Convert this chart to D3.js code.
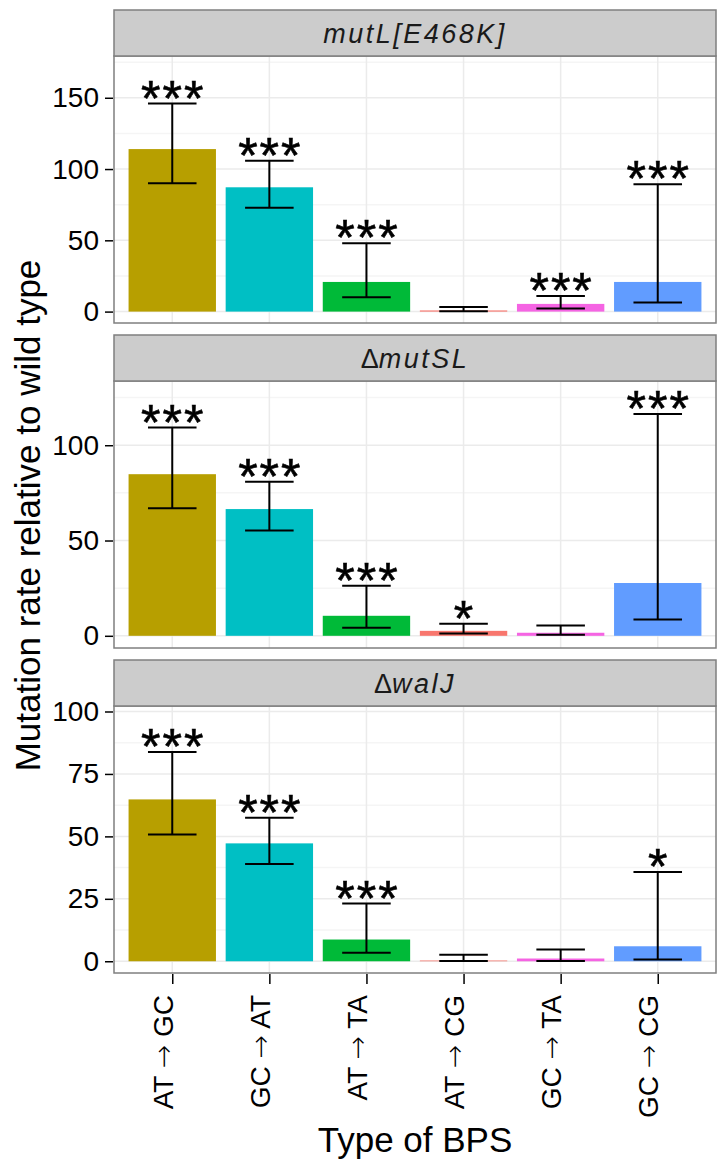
<!DOCTYPE html>
<html>
<head>
<meta charset="utf-8">
<script src="https://cdn.jsdelivr.net/npm/d3@7"></script>
<style>
  html, body { margin: 0; padding: 0; background: #fff; }
  svg { display: block; font-family: "Liberation Sans", Arial, Helvetica, sans-serif; }
</style>
</head>
<body>
<svg id="chart" width="717" height="1162"></svg>
<script>
// Base-pair substitution types (x categories) and their fills
const categories = ["AT \u2192 GC", "GC \u2192 AT", "AT \u2192 TA", "AT \u2192 CG", "GC \u2192 TA", "GC \u2192 CG"];
const fillColors = ["#B79F00", "#00BFC4", "#00BA38", "#F8766D", "#F564E3", "#619CFF"];

// Facets: strain labels (prefix drawn upright, name in italics)
const panelPrefix = ["", "\u0394", "\u0394"];
const panelNames = ["mutL[E468K]", "mutSL", "walJ"];

// Mutation rate relative to wild type, with confidence limits
const rateMutL = [114, 87.2, 20.8, 0.8, 5.4, 20.8];
const lowMutL  = [90, 72.9, 10.1, 0.2, 2.1, 6.3];
const highMutL = [145.9, 105.9, 48, 3.3, 11, 89.3];

const rateMutSL = [84.8, 66.5, 10.5, 2.6, 1.6, 27.7];
const lowMutSL  = [66.9, 55.3, 4.2, 1.2, 0.5, 8.5];
const highMutSL = [109.3, 80.8, 26.3, 6.3, 5.4, 116.4];

const rateWalJ = [64.8, 47.2, 8.7, 0.3, 1.1, 6.0];
const lowWalJ  = [50.8, 38.9, 3.4, 0.1, 0.1, 0.7];
const highWalJ = [83.8, 57.5, 23.1, 2.6, 4.7, 35.7];

// Significance marks above each bar
const sigMutL  = ["***", "***", "***", "", "***", "***"];
const sigMutSL = ["***", "***", "***", "*", "", "***"];
const sigWalJ  = ["***", "***", "***", "", "", "*"];

// Per-facet y axis: visible range and tick values
const yDomains = [[-8, 179.3], [-6.4, 133.7], [-4.7, 102.2]];
const yTicks = [[0, 50, 100, 150], [0, 50, 100], [0, 25, 50, 75, 100]];

const panelRates = [rateMutL, rateMutSL, rateWalJ];
const panelLows = [lowMutL, lowMutSL, lowWalJ];
const panelHighs = [highMutL, highMutSL, highWalJ];
const panelSigs = [sigMutL, sigMutSL, sigWalJ];

// Layout
const plotLeft = 114, plotRight = 716;
const top0 = 10, stripH = 46, panelH = 267, gap = 12;
const tickFont = 28, titleFont = 35, starFont = 50;

const svg = d3.select("#chart");

const x = d3.scalePoint()
  .domain(categories)
  .range([plotLeft, plotRight])
  .padding(0.6);
const step = x.step();
const barW = step * 0.9;
const capW = step * 0.5;
const color = d3.scaleOrdinal().domain(categories).range(fillColors);

panelNames.forEach((name, p) => {
  const stripTop = top0 + p * (stripH + panelH + gap);
  const pTop = stripTop + stripH;
  const pBottom = pTop + panelH;

  const y = d3.scaleLinear().domain(yDomains[p]).range([pBottom, pTop]);
  const g = svg.append("g");

  // panel background
  g.append("rect")
    .attr("x", plotLeft).attr("y", pTop)
    .attr("width", plotRight - plotLeft).attr("height", panelH)
    .attr("fill", "#fff");

  // minor horizontal grid lines (midpoints between major ticks)
  const t = yTicks[p];
  const stepT = t[1] - t[0];
  const minor = [];
  for (let v = t[0] - stepT / 2; v <= yDomains[p][1]; v += stepT) {
    if (v >= yDomains[p][0]) minor.push(v);
  }
  g.selectAll(".minor").data(minor).join("line")
    .attr("x1", plotLeft).attr("x2", plotRight)
    .attr("y1", d => y(d)).attr("y2", d => y(d))
    .attr("stroke", "#f5f5f5").attr("stroke-width", 1.5);

  // major grid
  g.selectAll(".hmaj").data(t).join("line")
    .attr("x1", plotLeft).attr("x2", plotRight)
    .attr("y1", d => y(d)).attr("y2", d => y(d))
    .attr("stroke", "#ebebeb").attr("stroke-width", 1.5);
  g.selectAll(".vmaj").data(categories).join("line")
    .attr("x1", d => x(d)).attr("x2", d => x(d))
    .attr("y1", pTop).attr("y2", pBottom)
    .attr("stroke", "#ebebeb").attr("stroke-width", 1.5);

  const rows = categories.map((c, i) => ({
    cat: c, rate: panelRates[p][i], lo: panelLows[p][i], hi: panelHighs[p][i], sig: panelSigs[p][i]
  }));

  // bars
  g.selectAll(".bar").data(rows).join("rect")
    .attr("x", d => x(d.cat) - barW / 2)
    .attr("width", barW)
    .attr("y", d => y(d.rate))
    .attr("height", d => y(0) - y(d.rate))
    .attr("fill", d => color(d.cat));

  // error bars
  const eb = g.selectAll(".eb").data(rows).join("g").attr("stroke", "#000").attr("stroke-width", 2);
  eb.append("line")
    .attr("x1", d => x(d.cat)).attr("x2", d => x(d.cat))
    .attr("y1", d => y(d.lo)).attr("y2", d => y(d.hi));
  eb.append("line")
    .attr("x1", d => x(d.cat) - capW / 2).attr("x2", d => x(d.cat) + capW / 2)
    .attr("y1", d => y(d.hi)).attr("y2", d => y(d.hi));
  eb.append("line")
    .attr("x1", d => x(d.cat) - capW / 2).attr("x2", d => x(d.cat) + capW / 2)
    .attr("y1", d => y(d.lo)).attr("y2", d => y(d.lo));

  // significance stars
  g.selectAll(".sig").data(rows.filter(d => d.sig)).join("text")
    .attr("x", d => x(d.cat) + (d.sig.length > 1 ? 1 : 0))
    .attr("y", d => y(d.hi) + 12)
    .attr("text-anchor", "middle")
    .attr("font-size", starFont)
    .attr("letter-spacing", d => d.sig.length > 1 ? 2 : 0)
    .attr("fill", "#000")
    .attr("stroke", "#000").attr("stroke-width", 0.6)
    .text(d => d.sig);

  // panel border
  g.append("rect")
    .attr("x", plotLeft).attr("y", pTop)
    .attr("width", plotRight - plotLeft).attr("height", panelH)
    .attr("fill", "none").attr("stroke", "#7f7f7f").attr("stroke-width", 1.5);

  // strip
  g.append("rect")
    .attr("x", plotLeft).attr("y", stripTop)
    .attr("width", plotRight - plotLeft).attr("height", stripH)
    .attr("fill", "#cccccc").attr("stroke", "#7f7f7f").attr("stroke-width", 1.5);
  const st = g.append("text")
    .attr("x", (plotLeft + plotRight) / 2)
    .attr("y", stripTop + stripH / 2 + 9.5)
    .attr("text-anchor", "middle")
    .attr("font-size", 27)
    .attr("letter-spacing", 2.5)
    .attr("fill", "#1a1a1a");
  if (panelPrefix[p]) st.append("tspan").attr("letter-spacing", 0).text(panelPrefix[p]);
  st.append("tspan").attr("font-style", "italic").text(name);

  // y axis
  const yAxis = d3.axisLeft(y).tickValues(t).tickSize(8).tickPadding(6).tickFormat(d3.format("d"));
  const ya = svg.append("g").attr("transform", `translate(${plotLeft - 1},0)`).call(yAxis);
  ya.select(".domain").remove();
  ya.selectAll(".tick line").attr("stroke", "#000").attr("stroke-width", 1.5);
  ya.selectAll(".tick text").attr("font-size", tickFont).attr("fill", "#000")
    .attr("font-family", "'Liberation Sans', Arial, sans-serif");

  // x axis on the bottom facet only
  if (p === panelNames.length - 1) {
    const xAxis = d3.axisBottom(x).tickSize(10).tickPadding(0).tickFormat(() => "");
    const xa = svg.append("g").attr("transform", `translate(0,${pBottom + 1})`).call(xAxis);
    xa.select(".domain").remove();
    xa.selectAll(".tick line").attr("stroke", "#000").attr("stroke-width", 1.5);
    // rotated labels: source pair, arrow, target pair
    xa.selectAll(".tick text")
      .attr("font-size", tickFont).attr("fill", "#000")
      .attr("font-family", "'Liberation Sans', Arial, sans-serif")
      .attr("text-anchor", "end")
      .attr("dy", null)
      .attr("x", 0).attr("y", 0)
      .attr("transform", "translate(0,21) rotate(-90)")
      .each(function(d) {
        const parts = d.split(" \u2192 ");
        const el = d3.select(this);
        el.append("tspan").text(parts[0] + " ");
        el.append("tspan").attr("font-family", "'DejaVu Sans', sans-serif").attr("font-weight", 300).text("\u2192");
        el.append("tspan").text(" " + parts[1]);
      });
  }
});

// axis titles
const lastBottom = top0 + 3 * (stripH + panelH) + 2 * gap;
svg.append("text")
  .attr("x", (plotLeft + plotRight) / 2)
  .attr("y", 1152)
  .attr("text-anchor", "middle")
  .attr("font-size", titleFont)
  .attr("fill", "#000")
  .text("Type of BPS");

svg.append("text")
  .attr("transform", `translate(40,${(top0 + lastBottom) / 2 + 24}) rotate(-90)`)
  .attr("text-anchor", "middle")
  .attr("font-size", titleFont)
  .attr("fill", "#000")
  .text("Mutation rate relative to wild type");
</script>
</body>
</html>
